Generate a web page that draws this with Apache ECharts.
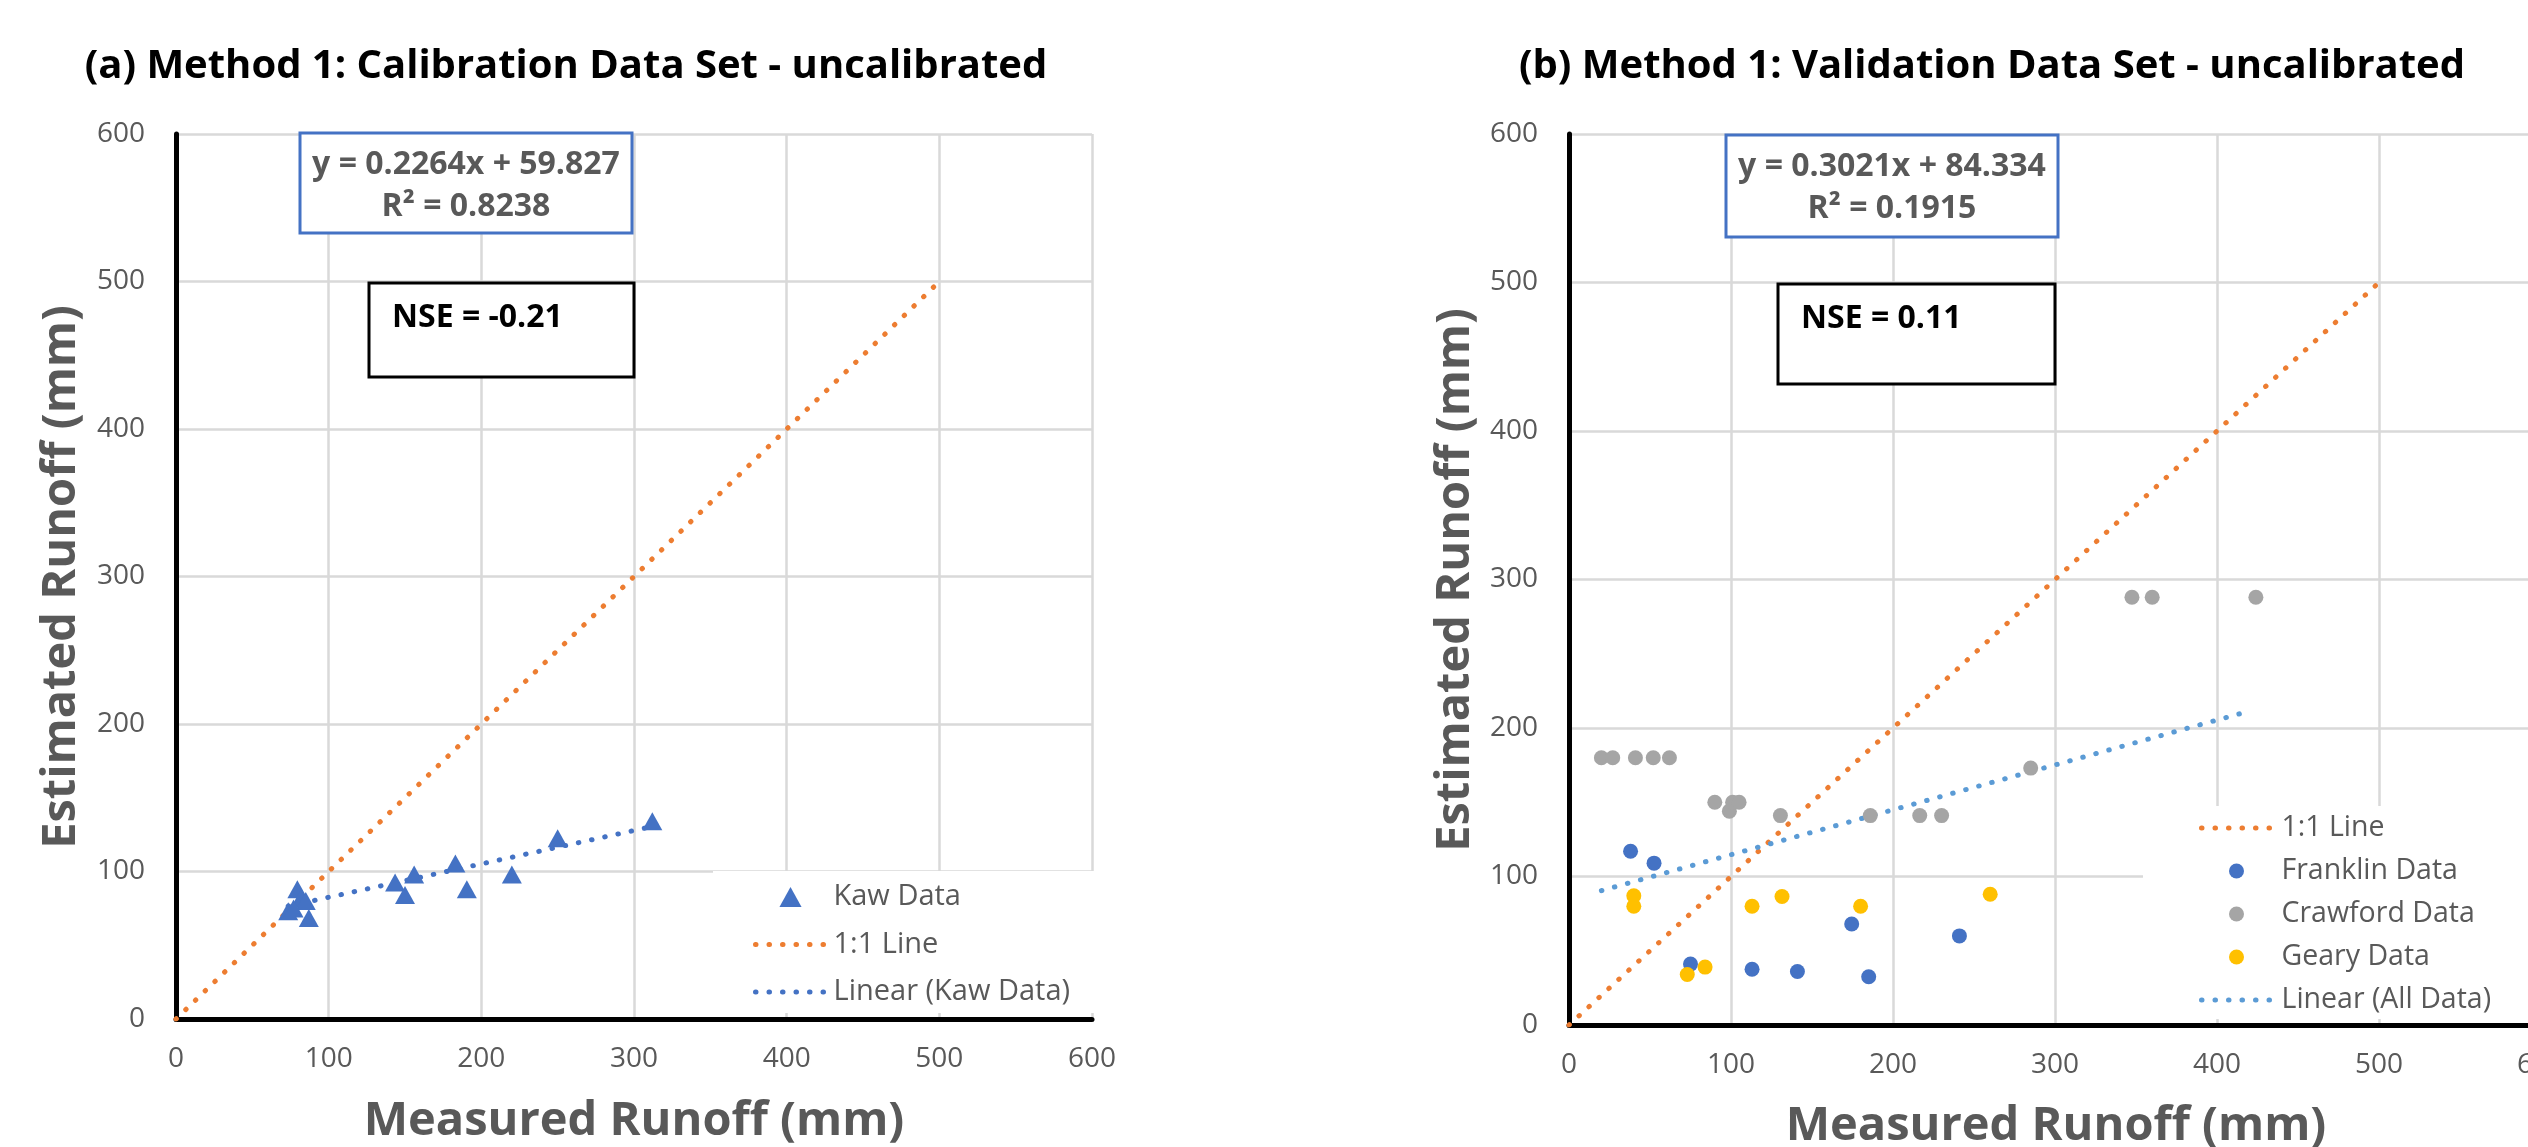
<!DOCTYPE html>
<html>
<head>
<meta charset="utf-8">
<script src="https://cdn.jsdelivr.net/npm/echarts@6/dist/echarts.min.js"></script>
<style>
html,body{margin:0;padding:0;background:#fff;overflow:hidden;}
#chart{width:2528px;height:1147px;}
</style>
</head>
<body>
<div id="chart"></div>
<script>
// ---- Data ----
var tickValues = [0, 100, 200, 300, 400, 500, 600];

// (a) Calibration data set
var kawData = [[79.5,88],[82,82],[85,80],[73.5,73],[77,75],[87,68.5],[143.5,92.5],[150,84],[156,98],[183,105.5],[190.5,88],[220,98],[250,122.5],[312,134]];
var oneToOneA = [[0,0],[500,500]];
var kawTrend = [[73.5,76.5],[312,130.5]];

// (b) Validation data set
var franklinData = [[38,117],[52.5,109],[75,41],[113,37.5],[141,36],[174.5,68],[185,32.5],[241,60]];
var crawfordData = [[20,180],[27,180],[41,180],[52,180],[62,180],[90,150],[99,144],[101,150],[105,150],[130.5,141],[186,141],[216.5,141],[230,141],[285,173],[347.5,288],[360,288],[424,288]];
var gearyData = [[40,87],[40,80],[73,34],[84,39],[113,80],[131.5,86.5],[180,80],[260,88]];
var oneToOneB = [[0,0],[500,500]];
var allTrend = [[20,90.5],[417,210.5]];

var titleA = '(a) Method 1: Calibration Data Set - uncalibrated';
var titleB = '(b) Method 1: Validation Data Set - uncalibrated';
var eqA = ['y = 0.2264x + 59.827', 'R\u00b2 = 0.8238'];
var eqB = ['y = 0.3021x + 84.334', 'R\u00b2 = 0.1915'];
var nseA = 'NSE = -0.21';
var nseB = 'NSE = 0.11';
var xName = 'Measured Runoff (mm)';
var yName = 'Estimated Runoff (mm)';

// ---- Styling ----
var FONT = '"Open Sans", "Noto Sans", sans-serif';
var GRAY = '#595959';
var ORANGE = '#ED7D31', BLUE = '#4472C4', LBLUE = '#5B9BD5', GREY = '#A5A5A5', GOLD = '#FFC000';
var dotLine = function(color){ return {color: color, width: 5, type: [0.5, 13], cap: 'round'}; };

function valueAxis(gridIndex, isX){
  return {
    type: 'value', gridIndex: gridIndex, min: 0, max: 600, interval: 100,
    axisLine: {show: true, onZero: false, lineStyle: {color: '#000', width: 5}},
    axisTick: {show: false},
    splitLine: {show: true, lineStyle: {color: '#d9d9d9', width: 2.5}},
    axisLabel: {
      color: GRAY, fontFamily: FONT, fontSize: 28, margin: isX ? 26 : 31,
      formatter: function(v){ return tickValues.indexOf(v) >= 0 ? String(v) : ''; }
    }
  };
}

var chart = echarts.init(document.getElementById('chart'), null, {renderer: 'canvas'});

function titleText(x, y, txt, size){
  return {type: 'text', x: x, y: y, z: 100,
    style: {text: txt, fill: '#000', font: 'bold ' + size + 'px ' + FONT, align: 'center', verticalAlign: 'middle'}};
}
function axisTitle(x, y, txt, rot){
  return {type: 'text', x: x, y: y, rotation: rot || 0, z: 100,
    style: {text: txt, fill: GRAY, font: 'bold 47px ' + FONT, align: 'center', verticalAlign: 'middle'}};
}
function eqBox(x1, y1, x2, y2, lines){
  var cx = (x1 + x2) / 2;
  return [
    {type: 'rect', z: 100, shape: {x: x1, y: y1, width: x2 - x1, height: y2 - y1},
      style: {fill: '#fff', stroke: BLUE, lineWidth: 3}},
    {type: 'text', z: 101, x: cx, y: y1 + 32, style: {text: lines[0], fill: GRAY, font: 'bold 32px ' + FONT, align: 'center', verticalAlign: 'middle'}},
    {type: 'text', z: 101, x: cx, y: y1 + 74, style: {text: lines[1], fill: GRAY, font: 'bold 32px ' + FONT, align: 'center', verticalAlign: 'middle'}}
  ];
}
function nseBox(x1, y1, x2, y2, txt){
  return [
    {type: 'rect', z: 100, shape: {x: x1, y: y1, width: x2 - x1, height: y2 - y1},
      style: {fill: '#fff', stroke: '#000', lineWidth: 3}},
    {type: 'text', z: 101, x: x1 + 23, y: y1 + 35, style: {text: txt, fill: '#000', font: 'bold 32px ' + FONT, align: 'left', verticalAlign: 'middle'}}
  ];
}

var graphics = [
  titleText(566, 67, titleA, 40),
  titleText(1992, 67, titleB, 40),
  axisTitle(634, 1122, xName),
  axisTitle(2056, 1127, xName),
  axisTitle(62, 577, yName, Math.PI / 2),
  axisTitle(1456, 580, yName, Math.PI / 2)
].concat(eqBox(300, 133, 632, 233, eqA))
 .concat(eqBox(1726, 135, 2058, 237, eqB))
 .concat(nseBox(369, 283, 634, 377, nseA))
 .concat(nseBox(1778, 284, 2055, 384, nseB));

function lineLegendItem(name, color){
  return {name: name, itemStyle: {color: 'rgba(0,0,0,0)', opacity: 0, borderWidth: 0},
    lineStyle: {color: color, width: 5, type: [0.5, 13], cap: 'round'}};
}

var option = {
  backgroundColor: '#fff',
  animation: false,
  grid: [
    {left: 176, top: 134, width: 916, height: 885, outerBoundsMode: 'none', containLabel: false},
    {left: 1569, top: 134, width: 972, height: 891, outerBoundsMode: 'none', containLabel: false}
  ],
  xAxis: [valueAxis(0, true), valueAxis(1, true)],
  yAxis: [valueAxis(0, false), valueAxis(1, false)],
  legend: [
    {
      left: 713, top: 871, orient: 'vertical', itemWidth: 70, itemHeight: 20, itemGap: 17.5,
      backgroundColor: '#fff', padding: [11, 21, 6, 40], selectedMode: false, symbolKeepAspect: true,
      data: [
        {name: 'Kaw Data', icon: 'path://M0,19L10.5,0L21,19Z', itemStyle: {color: BLUE}},
        lineLegendItem('1:1 Line', ORANGE),
        lineLegendItem('Linear (Kaw Data)', BLUE)
      ],
      textStyle: {fontFamily: FONT, fontSize: 29, color: GRAY, lineHeight: 30, width: 240, padding: [0, 0, 0, 3]}
    },
    {
      left: 2143, top: 806, orient: 'vertical', itemWidth: 70, itemHeight: 15, itemGap: 13,
      backgroundColor: '#fff', padding: [7, 30, 4, 56], selectedMode: false,
      data: [
        lineLegendItem('1:1 Line ', ORANGE),
        {name: 'Franklin Data', icon: 'circle'},
        {name: 'Crawford Data', icon: 'circle'},
        {name: 'Geary Data', icon: 'circle'},
        lineLegendItem('Linear (All Data)', LBLUE)
      ],
      textStyle: {fontFamily: FONT, fontSize: 28.5, color: GRAY, lineHeight: 30, width: 260, padding: [0, 0, 0, 5]}
    }
  ],
  series: [
    {name: '1:1 Line', type: 'line', xAxisIndex: 0, yAxisIndex: 0, data: oneToOneA, symbol: 'none', itemStyle: {color: ORANGE}, lineStyle: dotLine(ORANGE), z: 2},
    {name: 'Linear (Kaw Data)', type: 'line', xAxisIndex: 0, yAxisIndex: 0, data: kawTrend, symbol: 'none', itemStyle: {color: BLUE}, lineStyle: dotLine(BLUE), z: 2},
    {name: 'Kaw Data', type: 'scatter', xAxisIndex: 0, yAxisIndex: 0, data: kawData, symbol: 'triangle', symbolSize: [20, 18], itemStyle: {color: BLUE, opacity: 1}, z: 3},

    {name: '1:1 Line ', type: 'line', xAxisIndex: 1, yAxisIndex: 1, data: oneToOneB, symbol: 'none', itemStyle: {color: ORANGE}, lineStyle: dotLine(ORANGE), z: 2},
    {name: 'Linear (All Data)', type: 'line', xAxisIndex: 1, yAxisIndex: 1, data: allTrend, symbol: 'none', itemStyle: {color: LBLUE}, lineStyle: dotLine(LBLUE), z: 2},
    {name: 'Franklin Data', type: 'scatter', xAxisIndex: 1, yAxisIndex: 1, data: franklinData, symbol: 'circle', symbolSize: 15, itemStyle: {color: BLUE, opacity: 1}, z: 3},
    {name: 'Crawford Data', type: 'scatter', xAxisIndex: 1, yAxisIndex: 1, data: crawfordData, symbol: 'circle', symbolSize: 15, itemStyle: {color: GREY, opacity: 1}, z: 3},
    {name: 'Geary Data', type: 'scatter', xAxisIndex: 1, yAxisIndex: 1, data: gearyData, symbol: 'circle', symbolSize: 15, itemStyle: {color: GOLD, opacity: 1}, z: 3}
  ],
  graphic: graphics
};
chart.setOption(option);
</script>
</body>
</html>
